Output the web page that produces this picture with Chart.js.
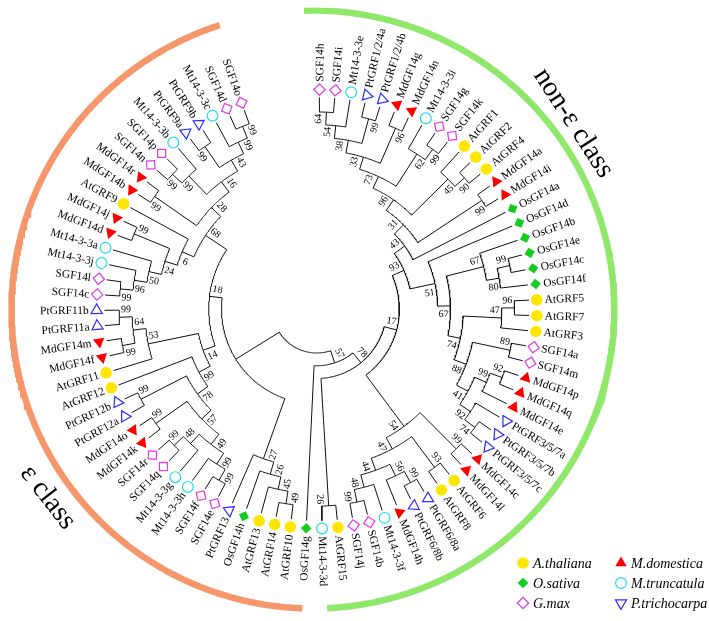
<!DOCTYPE html>
<html><head><meta charset="utf-8">
<script src="https://cdn.jsdelivr.net/npm/chart.js@4.4.1/dist/chart.umd.min.js"></script>
<style>html,body{margin:0;padding:0;background:#fff;}canvas{display:block;}</style>
</head><body>
<canvas id="c" width="709" height="621"></canvas>
<script>
// ================= DATA =================
const speciesNames  = ['A.thaliana','M.domestica','O.sativa','M.truncatula','G.max','P.trichocarpa'];
const speciesPrefix = ['At','Md','Os','Mt','SGF','Pt'];
const classLabels   = ['non-\u03b5 class','\u03b5 class'];

// Tree topology (Newick, clockwise leaf order), internal labels = bootstrap values
const cladeSoyMtPt   = "(((SGF14h,SGF14i)64,Mt14-3-3e)54,(PtGRF1/2/4a,PtGRF1/2/4b)99)38";
const cladeGRF124    = "((((" + cladeSoyMtPt + ",(MdGF14g,MdGF14n)96)33,(Mt14-3-3i,(SGF14g,SGF14k)99)62)73,(AtGRF1,(AtGRF2,AtGRF4)90)45)96,(MdGF14a,MdGF14i)99)31";
const cladeOsA       = "(" + cladeGRF124 + ",OsGF14a)43";
const cladeOsB       = "(OsGF14b,((OsGF14e,OsGF14c)99,OsGF14f)80)67";
const cladeGRF357    = "(((AtGRF5,AtGRF7)96,AtGRF3)47,((SGF14a,SGF14m)89,(((MdGF14p,MdGF14q)92,MdGF14e)99,(PtGRF3/5/7a,(PtGRF3/5/7b,PtGRF3/5/7c)74)92)41)88)74";
const cladeOsD       = "(OsGF14d,(" + cladeOsB + "," + cladeGRF357 + ")67)51";
const cladeGRF68     = "((MdGF14c,MdGF14l)99,((AtGRF6,AtGRF8)93,(((PtGRF6/8a,PtGRF6/8b)99,MdGF14h)56,(Mt14-3-3f,(SGF14b,SGF14j)99)48)44)47)54";
const cladeNonEps    = "((((" + cladeOsA + "," + cladeOsD + ")93," + cladeGRF68 + ")17,(AtGRF15,Mt14-3-3d)26)78,OsGF14g)57";
const cladeGRF10     = "((((AtGRF10,AtGRF14)49,AtGRF13)45,OsGF14h)26,PtGRF13)27";
const cladeGRF12     = "((((((SGF14e,SGF14f)99,Mt14-3-3h)99,(Mt14-3-3g,(SGF14q,SGF14r)99)48)49,(MdGF14k,MdGF14o)99)57,(PtGRF12a,PtGRF12b)99)78,AtGRF12)99";
const cladeGRF11     = "(AtGRF11,((MdGF14f,MdGF14m)99,(PtGRF11a,PtGRF11b)99)64)53";
const cladeGRF9      = "((((((SGF14c,SGF14l)99,Mt14-3-3j)96,Mt14-3-3a)50,(MdGF14d,MdGF14j)99)24,AtGRF9)6,((MdGF14b,MdGF14r)99,(((SGF14n,SGF14p)99,Mt14-3-3b)99,((PtGRF9a,PtGRF9b)99,(Mt14-3-3c,(SGF14d,SGF14o)99)99)43)16)28)68";
const cladeEps       = "(" + cladeGRF10 + ",((" + cladeGRF12 + "," + cladeGRF11 + ")14," + cladeGRF9 + ")18)";
const treeNewick     = "(" + cladeNonEps + "," + cladeEps + ");";

// ================= LAYOUT CONSTANTS =================
const DEG = Math.PI / 180;
const START = 0.7, STEP = 360 / 87;          // leaf angles, clockwise from top
const R_BASE = 215.1, R_STEP = 13.08;        // node radius by height
const R_LEAF = 217, R_MARK = 225, R_TEXT = 233;
const CX = 316, CY = 309, W = 709, H = 621;

function parseNewick(s) {
  let i = 0;
  function node() {
    const n = { children: [], label: '', name: '' };
    if (s[i] === '(') {
      i++;
      n.children.push(node());
      while (s[i] === ',') { i++; n.children.push(node()); }
      i++;
    }
    let t = '';
    while (i < s.length && !',();'.includes(s[i])) t += s[i++];
    if (n.children.length) n.label = t; else n.name = t;
    return n;
  }
  return node();
}
const root = parseNewick(treeNewick);
const leaves = [], internals = [];
(function walk(n) {
  if (!n.children.length) {
    n.idx = leaves.length; leaves.push(n); n.h = 0; n.theta = START + n.idx * STEP; n.r = R_LEAF;
  } else {
    n.children.forEach(c => { c.parent = n; walk(c); });
    n.h = 1 + Math.max(...n.children.map(c => c.h));
    n.theta = (n.children[0].theta + n.children[n.children.length - 1].theta) / 2;
    n.r = R_BASE - R_STEP * n.h;
    internals.push(n);
  }
})(root);

const P = (r, t) => ({ x: r * Math.sin(t * DEG), y: r * Math.cos(t * DEG) });
const gap = () => ({ x: NaN, y: NaN });

// branch polylines
const branchPts = [];
internals.forEach(n => {
  const t0 = n.children[0].theta, t1 = n.children[n.children.length - 1].theta;
  const k = Math.max(2, Math.ceil(Math.abs(t1 - t0) / 0.5));
  for (let j = 0; j <= k; j++) branchPts.push(P(n.r, t0 + (t1 - t0) * j / k));
  branchPts.push(gap());
  n.children.forEach(c => { branchPts.push(P(n.r, c.theta), P(c.r, c.theta), gap()); });
});

// class arcs
function arcPts(t0, t1) {
  const pts = [];
  for (let t = t0; t <= t1 + 1e-6; t += 0.5) {
    pts.push({ x: -4 + 308 * Math.sin(t * DEG), y: -0.5 + 306.5 * Math.cos(t * DEG) });
  }
  return pts;
}

function speciesOf(name) {
  for (let k = 0; k < speciesPrefix.length; k++) if (name.startsWith(speciesPrefix[k])) return k;
  return 0;
}
const styles = [
  { ps: 'circle',   r: 5.8, bg: '#FFE600', bc: '#FFE600', bw: 0,   rot: 0 },
  { ps: 'triangle', r: 6.6, bg: '#FF0000', bc: '#FF0000', bw: 0,   rot: 0 },
  { ps: 'rectRot',  r: 5.3, bg: '#12CC22', bc: '#12CC22', bw: 0,   rot: 0 },
  { ps: 'circle',   r: 5.4, bg: 'rgba(0,0,0,0)', bc: '#1FDDEE', bw: 1.2, rot: 0 },
  { ps: 'rectRot',  r: 5.7, bg: 'rgba(0,0,0,0)', bc: '#E23AE2', bw: 1.2, rot: 0 },
  { ps: 'triangle', r: 6.4, bg: 'rgba(0,0,0,0)', bc: '#2B2BFF', bw: 1.2, rot: 180 }
];

const datasets = [];
speciesNames.forEach((sp, k) => {
  const st = styles[k];
  const pts = leaves.filter(l => speciesOf(l.name) === k)
    .map(l => Object.assign(P(R_MARK, l.theta), { rot: l.theta - 90 + st.rot }));
  datasets.push({
    label: sp, data: pts, showLine: false, order: 0,
    pointStyle: st.ps, pointRadius: st.r, pointHoverRadius: st.r,
    pointBackgroundColor: st.bg, pointBorderColor: st.bc, pointBorderWidth: st.bw,
    pointRotation: ctx => (ctx.raw ? ctx.raw.rot : 0)
  });
});
datasets.push({ label: 'branches', data: branchPts, showLine: true, spanGaps: false, order: 1,
  borderColor: '#111', borderWidth: 1, pointRadius: 0, tension: 0 });
datasets.push({ label: 'eps', data: arcPts(182, 342), showLine: true, order: 2,
  borderColor: '#F6966B', borderWidth: 6.5, pointRadius: 0, borderCapStyle: 'butt' });
datasets.push({ label: 'noneps', data: arcPts(-1.7, 177.6), showLine: true, order: 2,
  borderColor: '#8FE86A', borderWidth: 6.5, pointRadius: 0, borderCapStyle: 'butt' });

function drawMark(ctx, st, x, y, rot) {
  ctx.save(); ctx.translate(x, y); ctx.rotate(rot * DEG); ctx.beginPath();
  const r = st.r;
  if (st.ps === 'circle') ctx.arc(0, 0, r, 0, 2 * Math.PI);
  else if (st.ps === 'triangle') {
    for (let k = 0; k < 3; k++) { const a = k * 2 * Math.PI / 3; const px = Math.sin(a) * r, py = -Math.cos(a) * r; if (k) ctx.lineTo(px, py); else ctx.moveTo(px, py); }
    ctx.closePath();
  } else { ctx.moveTo(-r, 0); ctx.lineTo(0, -r); ctx.lineTo(r, 0); ctx.lineTo(0, r); ctx.closePath(); }
  ctx.fillStyle = st.bg; ctx.fill();
  if (st.bw > 0) { ctx.strokeStyle = st.bc; ctx.lineWidth = st.bw; ctx.stroke(); }
  ctx.restore();
}

const SERIF = '"Liberation Serif", "Times New Roman", serif';
const textPlugin = {
  id: 'treeText',
  afterDatasetsDraw(chart) {
    const ctx = chart.ctx, xs = chart.scales.x, ys = chart.scales.y;
    const px = (r, t) => { const p = P(r, t); return [xs.getPixelForValue(p.x), ys.getPixelForValue(p.y)]; };
    ctx.save();
    ctx.fillStyle = '#000'; ctx.textBaseline = 'middle';
    // leaf labels
    ctx.font = '11.5px ' + SERIF;
    leaves.forEach(l => {
      const [x, y] = px(R_TEXT, l.theta);
      const right = l.theta < 180;
      ctx.save(); ctx.translate(x, y);
      ctx.rotate((right ? l.theta - 90 : l.theta - 270) * DEG);
      ctx.textAlign = right ? 'left' : 'right';
      ctx.fillText(l.name, 0, 0.5);
      ctx.restore();
    });
    // bootstrap labels
    ctx.font = '10px ' + SERIF; ctx.textAlign = 'center';
    internals.forEach(n => {
      if (!n.label || !n.parent) return;
      const rl = n.r - 7;
      const sgn = Math.sign(n.theta - n.parent.theta) || 1;
      const t = n.theta + sgn * (8 / rl) / DEG;
      const [x, y] = px(rl, t);
      const right = ((t % 360) + 360) % 360 < 180;
      ctx.save(); ctx.translate(x, y);
      ctx.rotate((right ? t - 90 : t - 270) * DEG);
      ctx.fillText(n.label, 0, 0.5);
      ctx.restore();
    });
    // class labels
    ctx.font = '28px ' + SERIF;
    [[classLabels[0], 324, 54, 57], [classLabels[1], 336, 234.9, 52]].forEach(([s, r, t, rot]) => {
      const [x, y] = px(r, t);
      ctx.save(); ctx.translate(x, y); ctx.rotate(rot * DEG); ctx.fillText(s, 0, 0); ctx.restore();
    });
    // legend
    const cols = [523, 621], rows = [563, 583, 603];
    const order = [0, 1, 2, 3, 4, 5];
    ctx.font = 'italic 14px ' + SERIF; ctx.textAlign = 'left';
    order.forEach((k, j) => {
      const x = cols[j % 2], y = rows[Math.floor(j / 2)];
      drawMark(ctx, styles[k], x, y, styles[k].rot);
      ctx.fillStyle = '#000';
      ctx.fillText(speciesNames[k], x + 10, y + 1);
    });
    ctx.restore();
  }
};

new Chart(document.getElementById('c').getContext('2d'), {
  type: 'scatter',
  data: { datasets },
  options: {
    responsive: false, animation: false, devicePixelRatio: 1, events: [],
    layout: { padding: 0 },
    plugins: { legend: { display: false }, tooltip: { enabled: false } },
    scales: {
      x: { type: 'linear', display: false, min: -CX, max: W - CX },
      y: { type: 'linear', display: false, min: -(H - CY), max: CY }
    }
  },
  plugins: [textPlugin]
});
</script>
</body></html>
